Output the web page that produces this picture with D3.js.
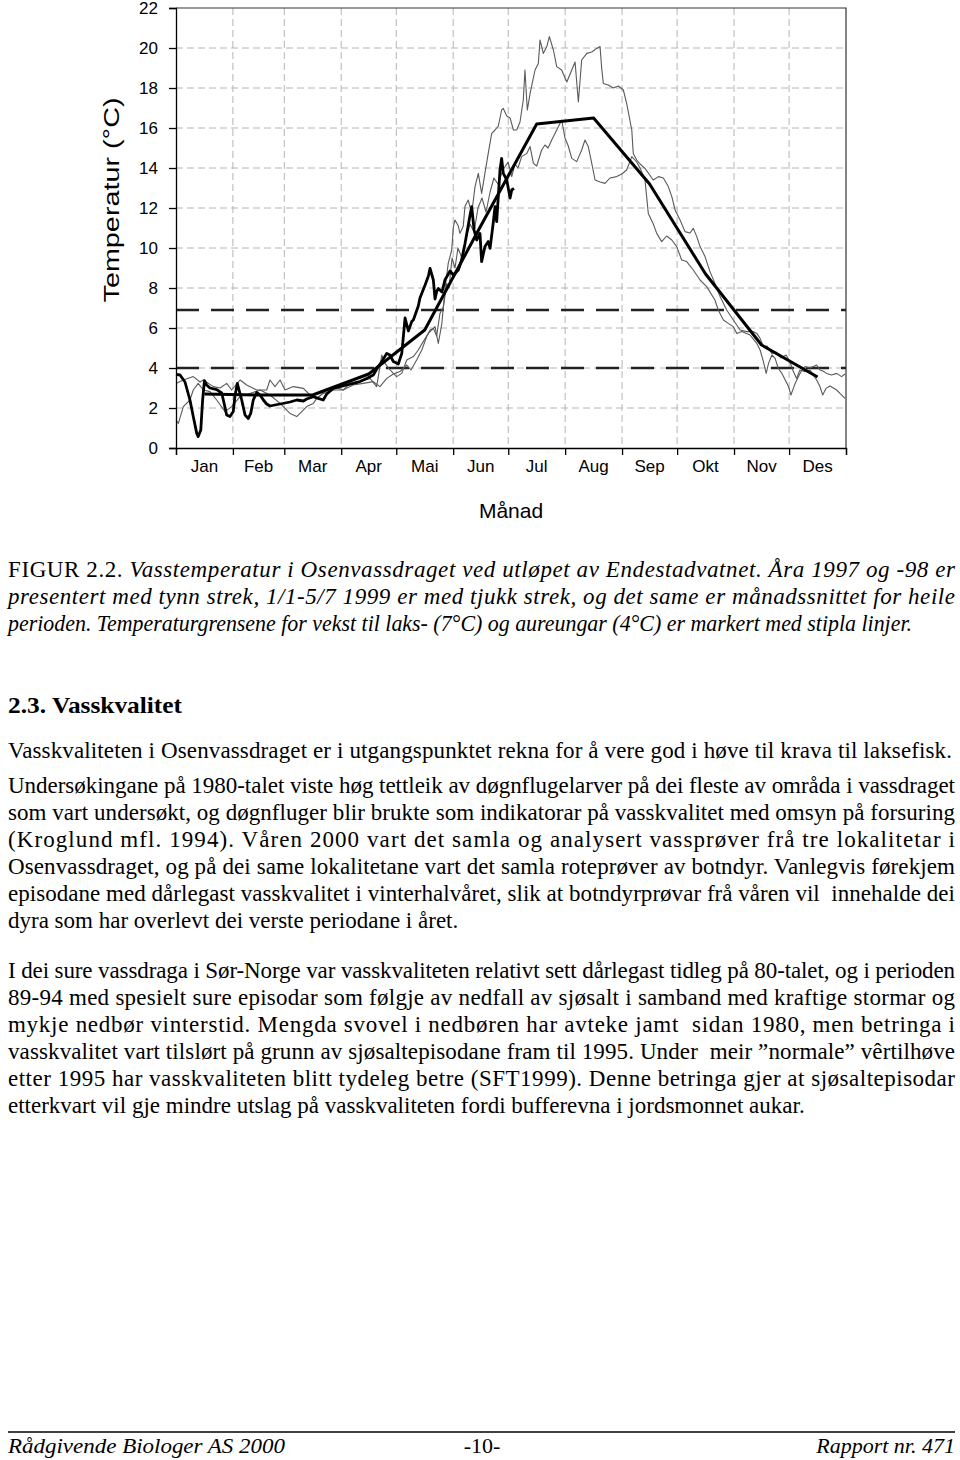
<!DOCTYPE html>
<html><head><meta charset="utf-8">
<script src="https://cdn.jsdelivr.net/npm/d3@7"></script>
<style>body{margin:0;background:#fff}svg{display:block}</style>
</head><body>
<svg id="c" width="960" height="1460"></svg>
<script>
// ---------- data ----------
const months = ["Jan","Feb","Mar","Apr","Mai","Jun","Jul","Aug","Sep","Okt","Nov","Des"];
const monthStartDays = [0,31,59,90,120,151,181,212,243,273,304,334,365];
const yTicks = [0,2,4,6,8,10,12,14,16,18,20,22];
const yGrid = [2,4,6,8,10,12,14,16,18,20];
const thresholds = [6.9, 4];

const meanDays = [15.5,45,74.5,105,135.5,166,196.5,227.5,258,288.5,319,349.5];
const meanTemp = [2.7,2.65,2.65,3.7,5.9,11.1,16.2,16.5,13.2,8.7,5.15,3.55];

const y1999Days = [0,2.2,4.9,7.6,9.4,11.3,12.1,13.5,14.5,15.5,16.7,18.5,22.2,24.9,25.8,27.6,29.4,31.2,32.1,33.4,35.8,37.6,39.4,40.7,42.1,44.0,45.8,47.6,49.4,51.2,53.9,56.7,59.4,62.1,65.8,69.4,71.2,74.8,77.5,80.2,82.1,85.7,89.3,93.0,96.6,100.2,103.9,107.5,110.2,112.1,114.8,116.6,118.4,121.1,123.0,124.8,126.6,128.4,129.3,132.0,132.9,135.7,137.5,138.4,140.2,141.1,142.0,142.9,144.9,146.5,149.3,151.1,153.8,155.6,157.4,160.2,161.1,162.4,163.8,165.6,166.5,168.3,170.1,171.1,172.9,173.8,174.7,176.5,177.4,178.3,180.2,182.0,182.9,184.1];
const y1999Temp = [3.68,3.65,3.3,2.4,1.57,0.73,0.57,0.9,2.4,3.37,3.15,3.0,2.92,2.75,2.4,1.65,1.57,1.82,2.6,3.23,2.4,1.65,1.48,1.73,2.4,2.78,2.65,2.4,2.2,2.1,2.15,2.2,2.25,2.3,2.4,2.35,2.45,2.57,2.48,2.4,2.7,2.98,3.07,3.15,3.23,3.32,3.48,3.65,4.07,4.32,4.73,4.65,4.32,4.2,4.73,6.5,5.85,6.32,6.4,7.1,7.5,8.15,8.6,8.98,8.4,7.45,7.82,7.98,7.8,8.4,8.85,8.65,8.9,9.4,10.2,11.65,12.07,10.9,10.4,10.73,9.32,10.07,10.32,9.98,11.32,12.07,11.32,13.9,14.48,13.73,13.4,12.5,12.9,12.98];

const y1997Days = [0,1.3,4.0,7.6,9.4,12.1,14.9,18.5,22.2,26.7,30.3,34.9,40.3,45.8,51.2,56.7,62.1,65.8,68.5,71.2,74.8,76.7,80.2,85.7,91.1,94.8,100.2,105.7,109.3,111.1,112.1,113.9,115.7,118.4,120.2,123.0,125.7,129.3,132.0,134.7,137.5,141.1,142.9,144.8,146.5,148.3,150.2,151.1,152.0,153.8,154.7,156.5,157.4,159.2,161.1,162.9,164.7,166.5,168.3,170.1,172.0,173.8,175.6,177.4,178.3,180.2,182.0,183.8,185.6,187.4,189.2,190.1,191.4,192.9,195.6,197.4,198.3,200.1,202.0,203.4,205.6,207.4,210.1,212.9,215.6,217.4,219.2,221.0,223.8,226.5,229.2,231.0,231.9,232.8,235.5,238.2,241.0,243.7,245.5,248.3,249.1,251.0,252.8,255.5,260.0,262.8,265.5,268.2,270.1,271.9,274.6,277.3,280.0,281.8,283.7,285.5,288.2,290.9,293.6,296.4,300.0,303.6,307.3,310.9,314.5,316.4,318.2,320.0,322.0,324.6,326.9,329.6,332.4,334.5,336.3,338.1,339.9,342.7,345.4,347.2,349.0,350.8,352.3,354.1,356.3,359.9,361.7,364.5];
const y1997Temp = [1.4,1.23,2.07,2.4,2.9,3.23,2.9,2.82,2.4,1.82,2.07,2.57,2.73,2.9,2.65,2.23,1.73,1.57,1.82,2.07,2.23,2.48,2.73,2.9,2.9,3.23,3.32,3.48,3.07,4.07,4.65,4.23,4.0,3.73,3.57,3.73,4.4,4.57,4.9,5.32,5.73,6.07,5.23,6.2,7.9,9.23,9.9,11.07,11.4,11.1,10.73,11.1,12.07,12.4,11.73,13.07,13.73,12.73,13.73,14.73,15.73,15.9,16.1,16.9,16.98,16.6,16.5,15.9,15.9,16.3,17.4,18.9,16.9,17.73,18.9,19.23,20.4,19.73,20.07,20.57,19.9,19.07,18.9,18.3,18.9,19.3,17.3,19.4,19.73,19.8,19.98,20.07,19.0,18.23,18.15,18.0,18.1,17.9,17.23,15.9,14.73,14.4,14.2,13.98,13.4,13.57,13.5,13.07,12.57,11.9,11.4,10.82,10.75,10.98,10.57,10.07,9.57,8.82,8.23,7.57,6.9,6.4,5.9,5.82,5.82,5.73,5.48,5.07,5.1,4.73,4.8,4.5,4.65,4.3,3.82,3.48,3.9,3.82,3.9,3.65,3.4,3.07,2.65,2.98,3.1,2.9,2.73,2.48];

const y1998Days = [0,4.0,9.4,13.1,14.9,20.3,24.0,27.6,30.3,34.9,38.5,44.0,49.4,51.2,53.9,56.7,59.4,63.9,69.4,73.0,76.7,81.2,85.7,91.1,96.4,102.0,107.5,111.1,114.8,118.4,122.0,125.7,128.0,131.1,133.9,136.6,138.4,140.2,142.0,143.8,145.7,147.5,148.7,150.4,152.0,153.6,155.8,158.0,160.2,162.4,164.5,166.7,168.9,171.1,173.2,175.4,178.1,180.9,182.9,184.7,186.3,188.3,191.1,192.9,194.7,196.5,199.2,201.0,202.7,204.7,207.4,210.1,211.9,213.7,215.6,218.3,221.0,222.8,224.6,226.5,228.3,231.0,233.7,236.4,240.1,242.8,245.5,248.3,251.0,252.8,255.5,257.3,260.0,261.9,264.6,267.3,270.1,272.8,275.5,278.2,281.8,285.5,289.1,293.6,295.4,298.2,300.9,303.6,305.5,308.2,312.7,316.4,318.2,320.0,321.5,322.8,324.6,326.4,328.0,330.1,331.9,333.7,335.0,337.3,339.1,341.0,342.7,345.4,347.2,349.0,350.8,352.4,354.4,357.1,359.9,362.6,364.5];
const y1998Temp = [3.23,3.4,3.57,3.3,3.4,3.07,3.0,3.23,2.9,3.4,3.15,2.9,2.9,3.4,3.07,3.4,2.9,3.07,2.98,2.65,2.48,2.82,3.07,2.9,3.15,3.23,3.32,3.07,3.48,3.7,3.82,4.15,3.9,4.4,4.9,5.57,5.9,5.98,5.6,6.73,7.07,8.23,8.0,9.5,9.0,10.0,9.5,10.5,11.2,10.8,12.0,12.5,11.8,12.8,13.5,13.2,13.9,14.3,13.57,14.2,14.0,14.57,14.73,15.07,14.23,14.1,14.9,15.15,15.0,15.4,15.9,16.4,15.5,15.1,14.48,14.32,14.9,15.4,15.07,14.23,13.4,13.3,13.23,13.5,13.57,13.7,13.9,14.57,14.3,14.0,13.4,11.73,11.2,10.73,10.32,10.6,10.4,10.07,9.4,9.32,8.9,8.4,8.07,7.4,6.9,6.4,6.23,6.07,5.73,5.82,5.65,5.23,4.9,4.32,3.73,4.23,4.65,4.48,4.0,3.73,3.4,3.07,2.65,3.23,3.57,3.9,4.07,4.0,4.07,4.15,3.9,3.85,3.73,3.65,3.73,3.57,3.7];

// ---------- texts ----------
const yTitle = "Temperatur (°C)";
const xTitle = "Månad";
const captionLabel = "FIGUR 2.2. ";
const captionLines = [
  "Vasstemperatur i Osenvassdraget ved utløpet av Endestadvatnet. Åra 1997 og -98 er",
  "presentert med tynn strek, 1/1-5/7 1999 er med tjukk strek, og det same er månadssnittet for heile",
  "perioden. Temperaturgrensene for vekst til laks- (7°C) og aureungar (4°C) er markert med stipla linjer."
];
const heading = "2.3. Vasskvalitet";
const para1 = [
  "Vasskvaliteten i Osenvassdraget er i utgangspunktet rekna for å vere god i høve til krava til laksefisk.",
  "Undersøkingane på 1980-talet viste høg tettleik av døgnflugelarver på dei fleste av områda i vassdraget",
  "som vart undersøkt, og døgnfluger blir brukte som indikatorar på vasskvalitet med omsyn på forsuring",
  "(Kroglund mfl. 1994). Våren 2000 vart det samla og analysert vassprøver frå tre lokalitetar i",
  "Osenvassdraget, og på dei same lokalitetane vart det samla roteprøver av botndyr. Vanlegvis førekjem",
  "episodane med dårlegast vasskvalitet i vinterhalvåret, slik at botndyrprøvar frå våren vil  innehalde dei",
  "dyra som har overlevt dei verste periodane i året."
];
const para2 = [
  "I dei sure vassdraga i Sør-Norge var vasskvaliteten relativt sett dårlegast tidleg på 80-talet, og i perioden",
  "89-94 med spesielt sure episodar som følgje av nedfall av sjøsalt i samband med kraftige stormar og",
  "mykje nedbør vinterstid. Mengda svovel i nedbøren har avteke jamt  sidan 1980, men betringa i",
  "vasskvalitet vart tilslørt på grunn av sjøsaltepisodane fram til 1995. Under  meir ”normale” vêrtilhøve",
  "etter 1995 har vasskvaliteten blitt tydeleg betre (SFT1999). Denne betringa gjer at sjøsaltepisodar",
  "etterkvart vil gje mindre utslag på vasskvaliteten fordi bufferevna i jordsmonnet aukar."
];
const footerLeft = "Rådgivende Biologer AS 2000";
const footerMid = "-10-";
const footerRight = "Rapport nr. 471";

// ---------- chart ----------
const svg = d3.select("#c");
const L = 176, R = 846, T = 8, B = 448;
const x = d3.scaleLinear().domain([0,365]).range([L,R]);
const y = d3.scaleLinear().domain([0,22]).range([B,T]);
const sans = "'Liberation Sans', Arial, sans-serif";
const serif = "'Liberation Serif', 'Times New Roman', serif";

const g = svg.append("g");
// grid
g.selectAll("line.hg").data(yGrid).join("line")
  .attr("x1",L).attr("x2",R).attr("y1",d=>y(d)).attr("y2",d=>y(d))
  .attr("stroke","#b4b4b4").attr("stroke-width",1).attr("stroke-dasharray","7,4");
g.selectAll("line.vg").data(monthStartDays.slice(1,12)).join("line")
  .attr("x1",d=>x(d)).attr("x2",d=>x(d)).attr("y1",T).attr("y2",B)
  .attr("stroke","#b4b4b4").attr("stroke-width",1).attr("stroke-dasharray","7,4");
// frame top/right
g.append("path").attr("d",`M${L},${T}H${R}V${B}`).attr("fill","none").attr("stroke","#333").attr("stroke-width",1.2);

// thresholds
g.selectAll("line.th").data(thresholds).join("line")
  .attr("x1",L).attr("x2",R).attr("y1",d=>y(d)).attr("y2",d=>y(d))
  .attr("stroke","#222").attr("stroke-width",2.6).attr("stroke-dasharray","23,12");

const line = d3.line().x(d=>x(d[0])).y(d=>y(d[1]));
const zip = (a,b)=>a.map((d,i)=>[d,b[i]]);
g.append("path").datum(zip(y1997Days,y1997Temp)).attr("d",line)
  .attr("fill","none").attr("stroke","#5a5a5a").attr("stroke-width",1.1).attr("stroke-linejoin","round");
g.append("path").datum(zip(y1998Days,y1998Temp)).attr("d",line)
  .attr("fill","none").attr("stroke","#5a5a5a").attr("stroke-width",1.1).attr("stroke-linejoin","round");
g.append("path").datum(zip(y1999Days,y1999Temp)).attr("d",line)
  .attr("fill","none").attr("stroke","#000").attr("stroke-width",2.8).attr("stroke-linejoin","round");
g.append("path").datum(zip(meanDays,meanTemp)).attr("d",line)
  .attr("fill","none").attr("stroke","#000").attr("stroke-width",3).attr("stroke-linejoin","round");

// axes
const ya = g.append("g").attr("transform",`translate(${L},0)`)
  .call(d3.axisLeft(y).tickValues(yTicks).tickSize(7).tickPadding(11).tickFormat(d3.format("d")));
ya.selectAll("text").attr("font-family",sans).attr("font-size",17).attr("fill","#000");
ya.selectAll("line,path").attr("stroke","#000").attr("stroke-width",1.3);
const xa = g.append("g").attr("transform",`translate(0,${B})`)
  .call(d3.axisBottom(x).tickValues(monthStartDays).tickSize(7).tickFormat(""));
xa.selectAll("line,path").attr("stroke","#000").attr("stroke-width",1.3);
g.selectAll("text.mon").data(months).join("text")
  .attr("x",(d,i)=>x((monthStartDays[i]+monthStartDays[i+1])/2)).attr("y",472)
  .attr("text-anchor","middle").attr("font-family",sans).attr("font-size",17).text(d=>d);

g.append("text").attr("transform","translate(119,200) rotate(-90)")
  .attr("text-anchor","middle").attr("font-family",sans).attr("font-size",22)
  .attr("textLength",205).attr("lengthAdjust","spacingAndGlyphs").text(yTitle);
g.append("text").attr("x",511).attr("y",518).attr("text-anchor","middle")
  .attr("font-family",sans).attr("font-size",21).text(xTitle);

// ---------- page text ----------
const txt = svg.append("g").attr("font-family",serif).attr("font-size",23).attr("fill","#000");
const justW = 947, X0 = 8;
const cap0 = txt.append("text").attr("x",X0).attr("y",577).attr("textLength",justW).attr("lengthAdjust","spacing");
cap0.append("tspan").text(captionLabel);
cap0.append("tspan").attr("font-style","italic").text(captionLines[0]);
txt.append("text").attr("x",X0).attr("y",604).attr("font-style","italic")
  .attr("textLength",justW).attr("lengthAdjust","spacing").text(captionLines[1]);
txt.append("text").attr("x",X0).attr("y",631).attr("font-style","italic")
  .attr("textLength",904).attr("lengthAdjust","spacingAndGlyphs").text(captionLines[2]);

txt.append("text").attr("x",X0).attr("y",713).attr("font-weight","bold")
  .attr("font-size",24).attr("textLength",174).attr("lengthAdjust","spacingAndGlyphs").text(heading);

const p1y = [758,793,820,847,874,901,928];
para1.forEach((s,i)=>{
  const t = txt.append("text").attr("x",X0).attr("y",p1y[i]).attr("xml:space","preserve").text(s);
  if(i<para1.length-1) t.attr("textLength", i===0?944:justW).attr("lengthAdjust","spacing");
});
const p2y = [978,1005,1032,1059,1086,1113];
para2.forEach((s,i)=>{
  const t = txt.append("text").attr("x",X0).attr("y",p2y[i]).attr("xml:space","preserve").text(s);
  if(i<para2.length-1) t.attr("textLength",justW).attr("lengthAdjust","spacing");
});

svg.append("line").attr("x1",8).attr("x2",955).attr("y1",1432).attr("y2",1432).attr("stroke","#000").attr("stroke-width",1.5);
const foot = txt.append("g").attr("font-size",22);
foot.append("text").attr("x",X0).attr("y",1453).attr("font-style","italic")
  .attr("textLength",277).attr("lengthAdjust","spacingAndGlyphs").text(footerLeft);
foot.append("text").attr("x",482).attr("y",1453).attr("text-anchor","middle").text(footerMid);
foot.append("text").attr("x",955).attr("y",1453).attr("text-anchor","end").attr("font-style","italic").text(footerRight);
</script>
</body></html>
